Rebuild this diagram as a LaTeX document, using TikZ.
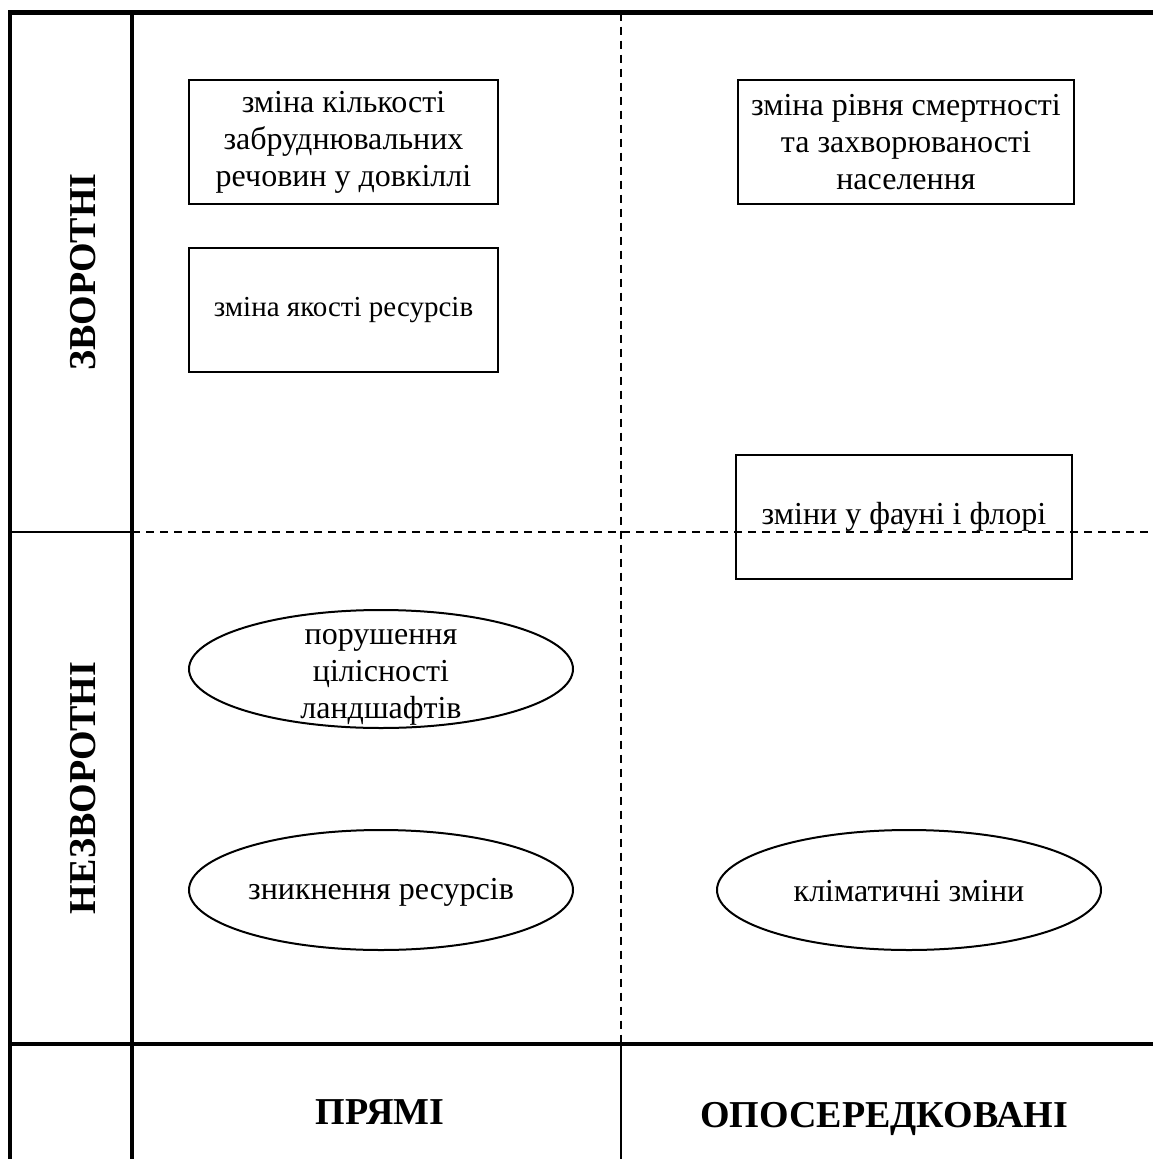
\documentclass[tikz,border=0pt]{standalone}
\usepackage{fontspec}
\setmainfont{Liberation Serif}
\usetikzlibrary{shapes.geometric}

\begin{document}
\begin{tikzpicture}[
            x = 1pt,
            y = -1pt,
            effectbox/.style = {
                rectangle,
                draw            = black,
                line width      = 2pt,
                align           = center,
                inner sep       = 0pt,
                font            = \fontsize{32}{37}\selectfont,
                minimum width   = 309pt,
                minimum height  = 124pt
            },
            effectoval/.style = {
                ellipse,
                draw            = black,
                line width      = 2pt,
                inner sep       = 0pt,
                minimum width   = 384pt,
                minimum height  = 120pt
            },
            ovaltext/.style = {
                align           = center,
                font            = \fontsize{32}{37}\selectfont
            },
            headlabel/.style = {
                font            = \bfseries\fontsize{38}{42}\selectfont
            },
            boldrule/.style  = {line width = 4.5pt},
            thinrule/.style  = {line width = 2pt},
            splitrule/.style = {line width = 2.2pt, dash pattern = on 8pt off 6pt}
        ]

            \useasboundingbox (0,0) rectangle (1153,1159);

            \draw[boldrule] (10,1159) -- (10,12.5) -- (1153,12.5);
            \draw[boldrule] (132,12.5) -- (132,1159);
            \draw[boldrule] (10,1044) -- (1153,1044);
            \draw[thinrule] (10,532) -- (132,532);
            \draw[splitrule] (132,532) -- (1153,532);
            \draw[splitrule] (621,12.5) -- (621,1044);
            \draw[thinrule] (621,1044) -- (621,1159);

            \node[effectbox] (pollutants) at (343.5,142) {
                зміна кількості \\ забруднювальних \\ речовин у довкіллі
            };
            \node[effectbox, font = \fontsize{29}{35}\selectfont]
                (quality) at (343.5,310) {зміна якості ресурсів};
            \node[effectbox, minimum width = 336pt] (mortality) at (906,142) {
                зміна рівня смертності \\ та захворюваності \\ населення
            };
            \node[effectbox, minimum width = 336pt] (fauna) at (904,517) {зміни у фауні і флорі};

            \node[effectoval, minimum height = 118pt,
                  label = {[ovaltext, yshift = -8pt]center:порушення \\ цілісності \\ ландшафтів}]
                (landscape) at (381,669) {};
            \node[effectoval, label = {[ovaltext, yshift = -2pt]center:зникнення ресурсів}]
                (depletion) at (381,890) {};
            \node[effectoval, label = {[ovaltext, yshift = -1pt]center:кліматичні зміни}]
                (climate)   at (909,890) {};

            \node[headlabel, rotate = 90] (reversible)   at (83,272)  {ЗВОРОТНІ};
            \node[headlabel, rotate = 90] (irreversible) at (83,788)  {НЕЗВОРОТНІ};
            \node[headlabel]              (direct)       at (380,1112) {ПРЯМІ};
            \node[headlabel]              (indirect)     at (884,1119) {ОПОСЕРЕДКОВАНІ};
        \end{tikzpicture}
\end{document}
